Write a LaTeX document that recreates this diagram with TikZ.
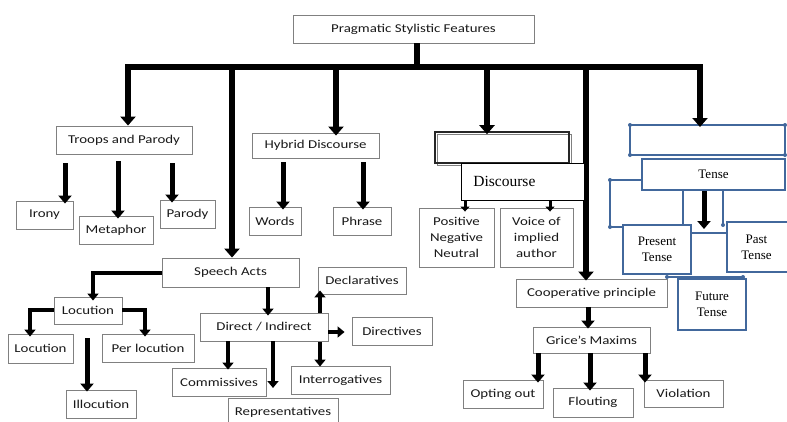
\documentclass[tikz,border=0pt]{standalone}
\usepackage{fontspec}
\setmainfont{Carlito}[FakeStretch=1.24]
\newfontfamily\tnr{Liberation Serif}
\usetikzlibrary{arrows.meta}
\definecolor{boxgray}{RGB}{128,128,128}
\definecolor{tblue}{RGB}{66,104,156}
\tikzset{
  gbox/.style={draw=boxgray, line width=0.9pt, fill=white, inner sep=0pt, align=center,
    font=\fontsize{12}{16}\selectfont, text=black!90},
  bbox/.style={draw=tblue, line width=2pt, fill=white, inner sep=0pt, align=center,
    font=\tnr\fontsize{13}{16}\selectfont},
  bigarrow/.style={line width=6pt, -{Triangle[width=15pt,length=9pt]}},
  midarrow/.style={line width=5pt, -{Triangle[width=13pt,length=8pt]}},
  smallarrow/.style={line width=4pt, -{Triangle[width=11pt,length=7pt]}},
  bline/.style={draw=tblue, line width=2pt},
  bdot/.style={fill=tblue, draw=none, circle, minimum size=4pt, inner sep=0pt},
}
% box by corners: \bx{name}{style}{x1}{y1}{x2}{y2}{text}
\newcommand{\bx}[7]{\node[#2, minimum width=#5pt-#3pt, minimum height=#6pt-#4pt] (#1) at ({(#3+#5)/2},{(#4+#6)/2}) {#7};}
\begin{document}
\begin{tikzpicture}[x=1pt,y=-1pt]
\clip (0,0) rectangle (787,421);
\fill[white] (0,0) rectangle (787,421);

% ---------- top level ----------
\bx{root}{gbox}{293}{15}{534}{43}{Pragmatic Stylistic Features}
\coordinate (barL) at (128,67);
\coordinate (barR) at (700,67);
\draw[line width=6pt] (root.south -| 417,0) -- (417,67);
\draw[line width=6pt, line cap=rect] (barL) -- (barR);

\bx{troops}{gbox}{56}{126}{192}{154}{Troops and Parody}
\bx{hybrid}{gbox}{252}{133}{379}{158}{Hybrid Discourse}
\bx{speech}{gbox}{162}{258}{299}{287}{Speech Acts}
\bx{coop}{gbox}{516}{279}{667}{307}{Cooperative principle}

\draw[bigarrow] (barL) -- (troops.north -| barL);
\draw[bigarrow] (barL -| 232,0) -- (speech.north -| 232,0);
\draw[bigarrow] (barL -| 336,0) -- ([yshift=-3pt]hybrid.north -| 336,0);
\draw[bigarrow] (barL -| 586,0) -- ([yshift=-2pt]coop.north -| 586,0);

% ---------- troops ----------
\bx{irony}{gbox}{16}{201}{73}{229}{Irony}
\bx{metaphor}{gbox}{79}{216}{153}{244}{Metaphor}
\bx{parody}{gbox}{160}{200}{215}{228}{Parody}
\draw[midarrow, shorten <=9pt] (troops.south -| 65,0) -- ([yshift=-3pt]irony.north -| 65,0);
\draw[midarrow, shorten <=7pt] (troops.south -| 118,0) -- ([yshift=-3pt]metaphor.north -| 118,0);
\draw[midarrow, shorten <=9pt] (troops.south -| 172,0) -- ([yshift=-3pt]parody.north -| 172,0);

% ---------- hybrid ----------
\bx{words}{gbox}{249}{207}{301}{235}{Words}
\bx{phrase}{gbox}{333}{207}{391}{235}{Phrase}
\draw[midarrow, shorten <=4pt] (hybrid.south -| 283,0) -- ([yshift=-3pt]words.north -| 283,0);
\draw[midarrow, shorten <=4pt] (hybrid.south -| 363,0) -- ([yshift=-3pt]phrase.north -| 363,0);

% ---------- discourse ----------
\draw[boxgray, line width=1pt] (437,134) rectangle (571,165);
\node[draw=black!85, line width=1.6pt, minimum width=134pt, minimum height=31pt, inner sep=0pt] (dempty) at (502,147.5) {};
\draw[bigarrow] (barL -| 487,0) -- ([yshift=-3pt]dempty.north -| 487,0);
\bx{positive}{gbox}{419}{208}{494}{267}{Positive\\Negative\\Neutral}
\bx{voice}{gbox}{500}{208}{573}{267}{Voice of\\implied\\author}
\draw[line width=3pt, -{Triangle[width=9pt,length=5pt]}] (dempty.south -| 465,0) -- ([yshift=-4pt]positive.north -| 465,0);
\draw[line width=3pt, -{Triangle[width=9pt,length=5pt]}] (dempty.south -| 550,0) -- ([yshift=-4pt]voice.north -| 550,0);
\node[draw=black, line width=0.8pt, fill=white, minimum width=123pt, minimum height=37pt, inner ysep=0pt, inner xsep=12pt,
  font=\tnr\fontsize{15.5}{18}\selectfont, anchor=north west, text width=99pt, align=left] (disc) at (461,163) {Discourse};

% ---------- tense ----------
\bx{tempty}{bbox}{630}{125}{785}{155}{}
\draw[bigarrow] (barR) -- ([yshift=-3pt]tempty.north -| barR);
\foreach \p in {(630,125),(785,125),(630,155),(785,155)} \node[bdot] at \p {};
\draw[bline] (683,190) -- (683,233) -- (727,233);
\draw[bline] (723,190) -- (723,225);
\node[bdot] at (723,225) {};
\draw[bline] (642,180) -- (610,180) -- (610,227) -- (623,227);
\node[bdot] at (610,180) {};
\node[bdot] at (610,227) {};
\draw[bline] (667,277) -- (743,277);
\node[bdot] at (667,277) {};
\node[bdot] at (743,277) {};
\bx{tense}{bbox}{642}{159}{785}{190}{Tense}
\bx{present}{bbox}{623}{225}{691}{274}{Present\\Tense}
\bx{past}{bbox}{727}{222}{790}{272}{\hspace*{-4pt}Past\\\hspace*{-4pt}Tense}
\bx{future}{bbox}{678}{279}{746}{330}{Future\\Tense}
\draw[midarrow] (tense.south -| 704,0) -- (704,229);

% ---------- cooperative ----------
\bx{grice}{gbox}{533}{327}{650}{353}{Grice’s Maxims}
\bx{opting}{gbox}{463}{380}{543}{408}{Opting out}
\bx{flouting}{gbox}{553}{388}{633}{417}{Flouting}
\bx{violation}{gbox}{644}{380}{723}{407}{Violation}
\draw[midarrow] (coop.south -| 588,0) -- ([yshift=-2pt]grice.north -| 588,0);
\draw[midarrow] (grice.south -| 538,0) -- ([yshift=-3pt]opting.north -| 538,0);
\draw[midarrow] (grice.south -| 590,0) -- ([yshift=-3pt]flouting.north -| 590,0);
\draw[midarrow] (grice.south -| 645,0) -- ([yshift=-3pt]violation.north -| 645,0);

% ---------- speech acts ----------
\bx{locution}{gbox}{54}{297}{122}{324}{Locution}
\bx{loc}{gbox}{8}{334}{73}{363}{Locution}
\bx{perloc}{gbox}{102}{334}{194}{362}{Per locution}
\bx{illoc}{gbox}{66}{390}{136}{418}{Illocution}
\draw[smallarrow] (speech.west |- 0,273) -| ([yshift=-4pt]locution.north -| 93,0);
\draw[smallarrow] (locution.west |- 0,310) -| ([yshift=-3pt]loc.north -| 30,0);
\draw[smallarrow] (locution.east |- 0,310) -| ([yshift=-3pt]perloc.north -| 145,0);
\draw[midarrow, shorten <=14pt] (locution.south -| 87,0) -- ([yshift=-2pt]illoc.north -| 87,0);

\bx{declar}{gbox}{318}{267}{406}{294}{Declaratives}
\bx{directives}{gbox}{352}{317}{432}{345}{Directives}
\bx{commis}{gbox}{172}{368}{266}{396}{Commissives}
\bx{repres}{gbox}{228}{398}{338}{426}{Representatives}
\bx{interrog}{gbox}{291}{366}{390}{394}{Interrogatives}
\draw[smallarrow, {Triangle[width=11pt,length=7pt]}-{Triangle[width=11pt,length=7pt]}]
  ([yshift=4pt]declar.south -| 320,0) -- ([yshift=-1pt]interrog.north -| 320,0);
\bx{direct}{gbox}{200}{313}{328}{341}{Direct / Indirect}
\draw[smallarrow] (speech.south -| 268,0) -- ([yshift=-3pt]direct.north -| 268,0);
\draw[smallarrow] (direct.east |- 0,332) -- ([xshift=-7pt]directives.west |- 0,332);
\draw[smallarrow] (direct.south -| 228,0) -- ([yshift=-2pt]commis.north -| 228,0);
\draw[smallarrow] (direct.south -| 273,0) -- (273,388);
\end{tikzpicture}
\end{document}
